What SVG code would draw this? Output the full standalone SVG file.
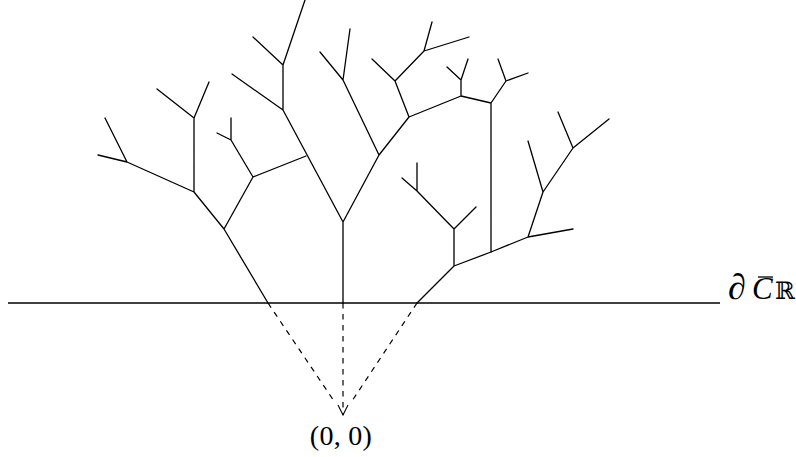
<svg xmlns="http://www.w3.org/2000/svg" width="796" height="457" viewBox="0 0 796 457">
<style>
.br{fill:none;stroke:#000;stroke-width:1.3;stroke-linecap:round;stroke-linejoin:round}
.ax{stroke:#000;stroke-width:1.3}
.dash{fill:none;stroke:#000;stroke-width:1.2;stroke-dasharray:5.5,5.5}
.lbl{font-family:"Liberation Serif","DejaVu Serif",serif;fill:#000}
</style>
<defs>
<marker id="arr" viewBox="0 0 12 12" refX="11" refY="6" markerWidth="12" markerHeight="12" markerUnits="userSpaceOnUse" orient="auto">
<path d="M1,1 L11,6 L1,11" fill="none" stroke="#000" stroke-width="1.1"/>
</marker>
</defs>
<g id="boundary">
<line class="ax" x1="8" y1="303" x2="720" y2="303"/>
<text class="lbl" x="728" y="299" font-size="36" font-style="italic" font-family="DejaVu Serif">∂</text>
<text class="lbl" x="752" y="299" font-size="31" font-style="italic">C</text>
<line x1="758" y1="277" x2="773" y2="277" stroke="#000" stroke-width="1.3"/>
<text class="lbl" x="775" y="299" font-size="24" font-family="DejaVu Serif">ℝ</text>
</g>
<g id="tree-left">
<path class="br" d="M268,303 L224,229 L194,192 L194,118 L209,82 M194,118 L157,89 M194,192 L127,162 L105,118 M127,162 L98,155 M224,229 L253,177 L231,140 L231,118 M231,140 L217,133 M253,177 L306,156"/>
</g>
<g id="tree-center">
<path class="br" d="M343,303 L343,222 L283,110 L283,65 L305,0 M283,65 L253,37 M283,110 L232,74 M343,222 L379,155 L343,80 L350,29 M343,80 L320,52 M379,155 L409,117 L395,81 L424,51 L432,22 M424,51 L469,37 M395,81 L372,59 M409,117 L461,96 L461,80 L468,59 M461,80 L447,67 M461,96 L491,103 L506,81 L498,59 M506,81 L528,73 M491,103 L491,252"/>
</g>
<g id="tree-right">
<path class="br" d="M417,303 L454,266 L454,229 L476,207 M454,229 L417,191 L417,163 M417,191 L402,178 M454,266 L491,252 L528,237 L573,229 M528,237 L543,192 L528,141 M543,192 L573,148 L558,112 M573,148 L609,119"/>
</g>
<g id="connectors">
<line class="dash" x1="268" y1="303" x2="334" y2="401"/>
<line class="dash" x1="343" y1="303" x2="343" y2="415" marker-end="url(#arr)"/>
<line class="dash" x1="417" y1="303" x2="352" y2="401"/>
</g>
<g id="origin">
<text class="lbl" x="341" y="445" font-size="28" text-anchor="middle" letter-spacing="0.3">(0, 0)</text>
</g>
</svg>
